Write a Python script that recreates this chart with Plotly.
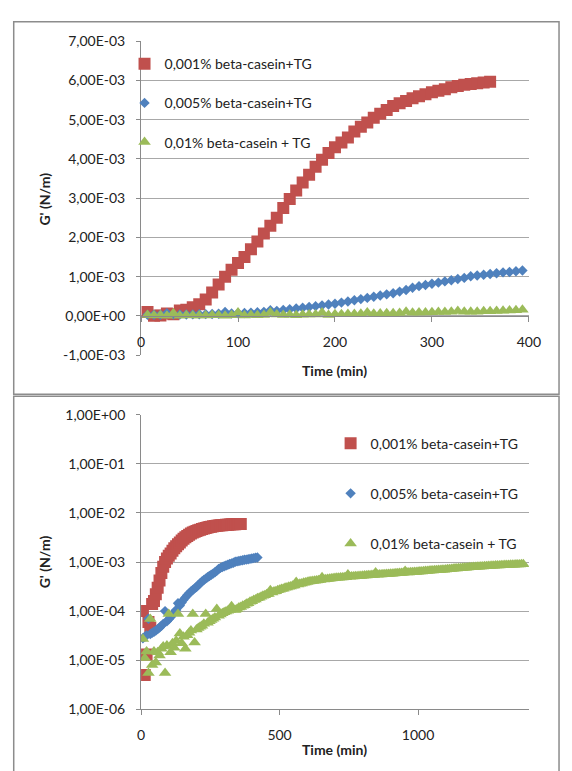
import plotly.graph_objects as go

# ---- data: storage modulus G' (mN/m), one reading every 400 s ----
STEP_MIN = 400 / 60

series_names = ["0,001% beta-casein+TG", "0,005% beta-casein+TG", "0,01% beta-casein + TG"]

red_mN = [0.100, 0.005, 0.013, 0.060, 0.045, 0.140, 0.160, 0.220, 0.300, 0.420,
          0.600, 0.800, 1.000, 1.180, 1.350, 1.500, 1.700, 1.900, 2.100, 2.300,
          2.500, 2.750, 2.980, 3.200, 3.400, 3.600, 3.800, 3.980, 4.150, 4.300,
          4.420, 4.550, 4.700, 4.820, 4.930, 5.050, 5.150, 5.250, 5.350, 5.420,
          5.480, 5.550, 5.600, 5.650, 5.700, 5.740, 5.780, 5.830, 5.860, 5.890,
          5.910, 5.930, 5.950, 5.970]

blue_mN = [0.028, 0.030, 0.032, 0.070, 0.034, 0.036, 0.038, 0.040, 0.043, 0.046,
           0.050, 0.055, 0.100, 0.062, 0.068, 0.075, 0.085, 0.095, 0.105, 0.145,
           0.130, 0.150, 0.170, 0.190, 0.210, 0.230, 0.250, 0.270, 0.290, 0.310,
           0.340, 0.370, 0.400, 0.430, 0.460, 0.490, 0.520, 0.550, 0.580, 0.620,
           0.660, 0.720, 0.760, 0.790, 0.820, 0.850, 0.880, 0.910, 0.940, 0.970,
           1.010, 1.030, 1.050, 1.070, 1.090, 1.110, 1.120, 1.140, 1.160, 1.180,
           1.200, 1.220, 1.240]

green_mN = [0.027, 0.011, 0.015, 0.0055, 0.069, 0.008, 0.015, 0.009, 0.0145, 0.0125,
            0.017, 0.019, 0.0055, 0.020, 0.087, 0.0145, 0.022, 0.018, 0.025, 0.087,
            0.035, 0.022, 0.030, 0.017, 0.032, 0.036, 0.040, 0.087, 0.023, 0.042,
            0.045, 0.048, 0.050, 0.055, 0.087, 0.058, 0.062, 0.066, 0.070, 0.074,
            0.110, 0.080, 0.085, 0.090, 0.095, 0.098, 0.102, 0.105, 0.126, 0.108,
            0.105,
            0.110, 0.118, 0.121, 0.129, 0.132, 0.141, 0.145, 0.155, 0.158,
            0.168, 0.173, 0.182, 0.188, 0.197, 0.205, 0.210, 0.220, 0.224, 0.265,
            0.240, 0.250, 0.255, 0.266, 0.271,
            0.282, 0.287, 0.299, 0.302, 0.314, 0.319, 0.329, 0.334, 0.390, 0.349,
            0.360, 0.364, 0.376, 0.381, 0.393,
            0.401, 0.404, 0.412, 0.414, 0.422, 0.425, 0.432, 0.490, 0.442, 0.445,
            0.452, 0.455, 0.462, 0.465, 0.473,
            0.476, 0.478, 0.484, 0.485, 0.491, 0.492, 0.560, 0.500, 0.505, 0.506,
            0.512, 0.513, 0.519, 0.520, 0.526,
            0.529, 0.531, 0.537, 0.537, 0.543, 0.544, 0.610, 0.551, 0.557, 0.557,
            0.563, 0.564, 0.570, 0.571, 0.576,
            0.580, 0.582, 0.589, 0.590, 0.597, 0.598, 0.605, 0.660, 0.613, 0.614,
            0.621, 0.622, 0.629, 0.630, 0.636,
            0.641, 0.643, 0.651, 0.653, 0.660, 0.662, 0.670, 0.671, 0.679, 0.681,
            0.688, 0.690, 0.698, 0.699, 0.706,
            0.712, 0.715, 0.724, 0.727, 0.735, 0.738, 0.747, 0.749, 0.758, 0.761,
            0.769, 0.772, 0.781, 0.783, 0.791,
            0.796, 0.798, 0.806, 0.808, 0.815, 0.817, 0.825, 0.826, 0.834, 0.836,
            0.843, 0.845, 0.853, 0.854, 0.861,
            0.864, 0.866, 0.872, 0.872, 0.879, 0.879, 0.885, 0.886, 0.892, 0.892,
            0.898, 0.901]

lin_tickvals = [-1e-3, 0, 1e-3, 2e-3, 3e-3, 4e-3, 5e-3, 6e-3, 7e-3]
lin_ticktext = ["-1,00E-03", "0,00E+00", "1,00E-03", "2,00E-03", "3,00E-03",
                "4,00E-03", "5,00E-03", "6,00E-03", "7,00E-03"]
log_tickvals = [1e-6, 1e-5, 1e-4, 1e-3, 1e-2, 1e-1, 1]
log_ticktext = ["1,00E-06", "1,00E-05", "1,00E-04", "1,00E-03", "1,00E-02",
                "1,00E-01", "1,00E+00"]

# ---- styling ----
W, H = 572, 771
FONT = "Lato"
TXT = "#222222"
GRID = "#a8a8a8"
AXIS = "#8a8a8a"
COLORS = ["#C0504D", "#4F81BD", "#9BBB59"]
SYMBOLS = ["square", "diamond", "triangle-up"]
SIZES = [12, 8, 11]


def px_x(p):
    return p / W


def px_y(p):
    return 1 - p / H


def times(n):
    return [(i + 1) * STEP_MIN for i in range(n)]


series = [red_mN, blue_mN, green_mN]

fig = go.Figure()

LIN_MAX_T = 400
for i, vals in enumerate(series):
    t = times(len(vals))
    g = [v * 1e-3 for v in vals]
    keep = [(a, b) for a, b in zip(t, g) if a < LIN_MAX_T - 1]
    fig.add_trace(go.Scatter(
        x=[a for a, _ in keep], y=[b for _, b in keep], mode="markers",
        name=series_names[i], xaxis="x", yaxis="y",
        marker=dict(symbol=SYMBOLS[i], size=SIZES[i], color=COLORS[i], line=dict(width=0)),
        legend="legend", legendgroup=f"a{i}", hoverinfo="skip"))

for i, vals in enumerate(series):
    t = times(len(vals))
    g = [v * 1e-3 for v in vals]
    fig.add_trace(go.Scatter(
        x=t, y=g, mode="markers", name=series_names[i], xaxis="x2", yaxis="y2",
        marker=dict(symbol=SYMBOLS[i], size=SIZES[i], color=COLORS[i], line=dict(width=0)),
        legend="legend2", legendgroup=f"b{i}", hoverinfo="skip"))

X_DOM = [px_x(141), px_x(540)]
TOP_DOM = [px_y(354), px_y(33)]
BOT_DOM = [px_y(716), px_y(415)]
lin_range = [-1e-3, 7e-3]
zero_pos = TOP_DOM[0] + (0 - lin_range[0]) / (lin_range[1] - lin_range[0]) * (TOP_DOM[1] - TOP_DOM[0])

tickfont = dict(family=FONT, size=14, color=TXT)
common_x = dict(showgrid=False, zeroline=False, showline=True, linecolor=AXIS, linewidth=1,
                ticks="outside", ticklen=5, tickcolor=AXIS, tickfont=tickfont,
                ticklabelstandoff=8)
common_y = dict(showgrid=True, gridcolor=GRID, gridwidth=1, zeroline=False, showline=True,
                linecolor=AXIS, linewidth=1, ticks="outside", ticklen=4, tickcolor=AXIS,
                tickfont=tickfont, ticklabelstandoff=8)

legend_common = dict(font=dict(family=FONT, size=14, color=TXT), bgcolor="rgba(0,0,0,0)",
                     traceorder="grouped", itemsizing="trace",
                     xanchor="left", yanchor="top")

fig.update_layout(
    width=W, height=H, margin=dict(l=0, r=0, t=0, b=0),
    paper_bgcolor="white", plot_bgcolor="white",
    xaxis=dict(domain=X_DOM, range=[0, 400], tickvals=[0, 100, 200, 300, 400],
               anchor="free", position=zero_pos, **common_x),
    yaxis=dict(domain=TOP_DOM, range=lin_range, tickvals=lin_tickvals,
               ticktext=lin_ticktext, anchor="x", **common_y),
    xaxis2=dict(domain=X_DOM, range=[0, 1400], tickvals=[0, 500, 1000], anchor="y2",
                **common_x),
    yaxis2=dict(domain=BOT_DOM, type="log", range=[-6, 0], tickvals=log_tickvals,
                ticktext=log_ticktext, anchor="x2", **common_y),
    legend=dict(x=px_x(124), y=px_y(40), tracegroupgap=18, **legend_common),
    legend2=dict(x=px_x(336), y=px_y(428), tracegroupgap=29, **legend_common),
    showlegend=True,
)

title_font = dict(family=FONT, size=14, color=TXT)
for ypx in (370, 757):
    fig.add_annotation(text="<b>Time (min)</b>", x=px_x(340), y=px_y(ypx), xref="paper",
                       yref="paper", showarrow=False, font=title_font,
                       xanchor="center", yanchor="middle")
for ypx in (194, 565):
    fig.add_annotation(text="<b>G' (N/m)</b>", x=px_x(42), y=px_y(ypx), xref="paper",
                       yref="paper", showarrow=False, font=title_font, textangle=-90,
                       xanchor="center", yanchor="middle")

# chart-area frames around the two panels
border = dict(color="#8c8c8c", width=1.5)
fig.add_shape(type="rect", xref="paper", yref="paper", x0=px_x(10), x1=px_x(571),
              y0=px_y(394), y1=px_y(13), line=border, layer="below")
fig.add_shape(type="rect", xref="paper", yref="paper", x0=px_x(10), x1=px_x(571),
              y0=px_y(780), y1=px_y(396), line=border, layer="below")

# the figure fills the page exactly, so the page itself gets no default margin
fig.write_html("out.html",
               post_script="document.body.style.margin='0';"
                           "document.body.style.overflow='hidden';")
